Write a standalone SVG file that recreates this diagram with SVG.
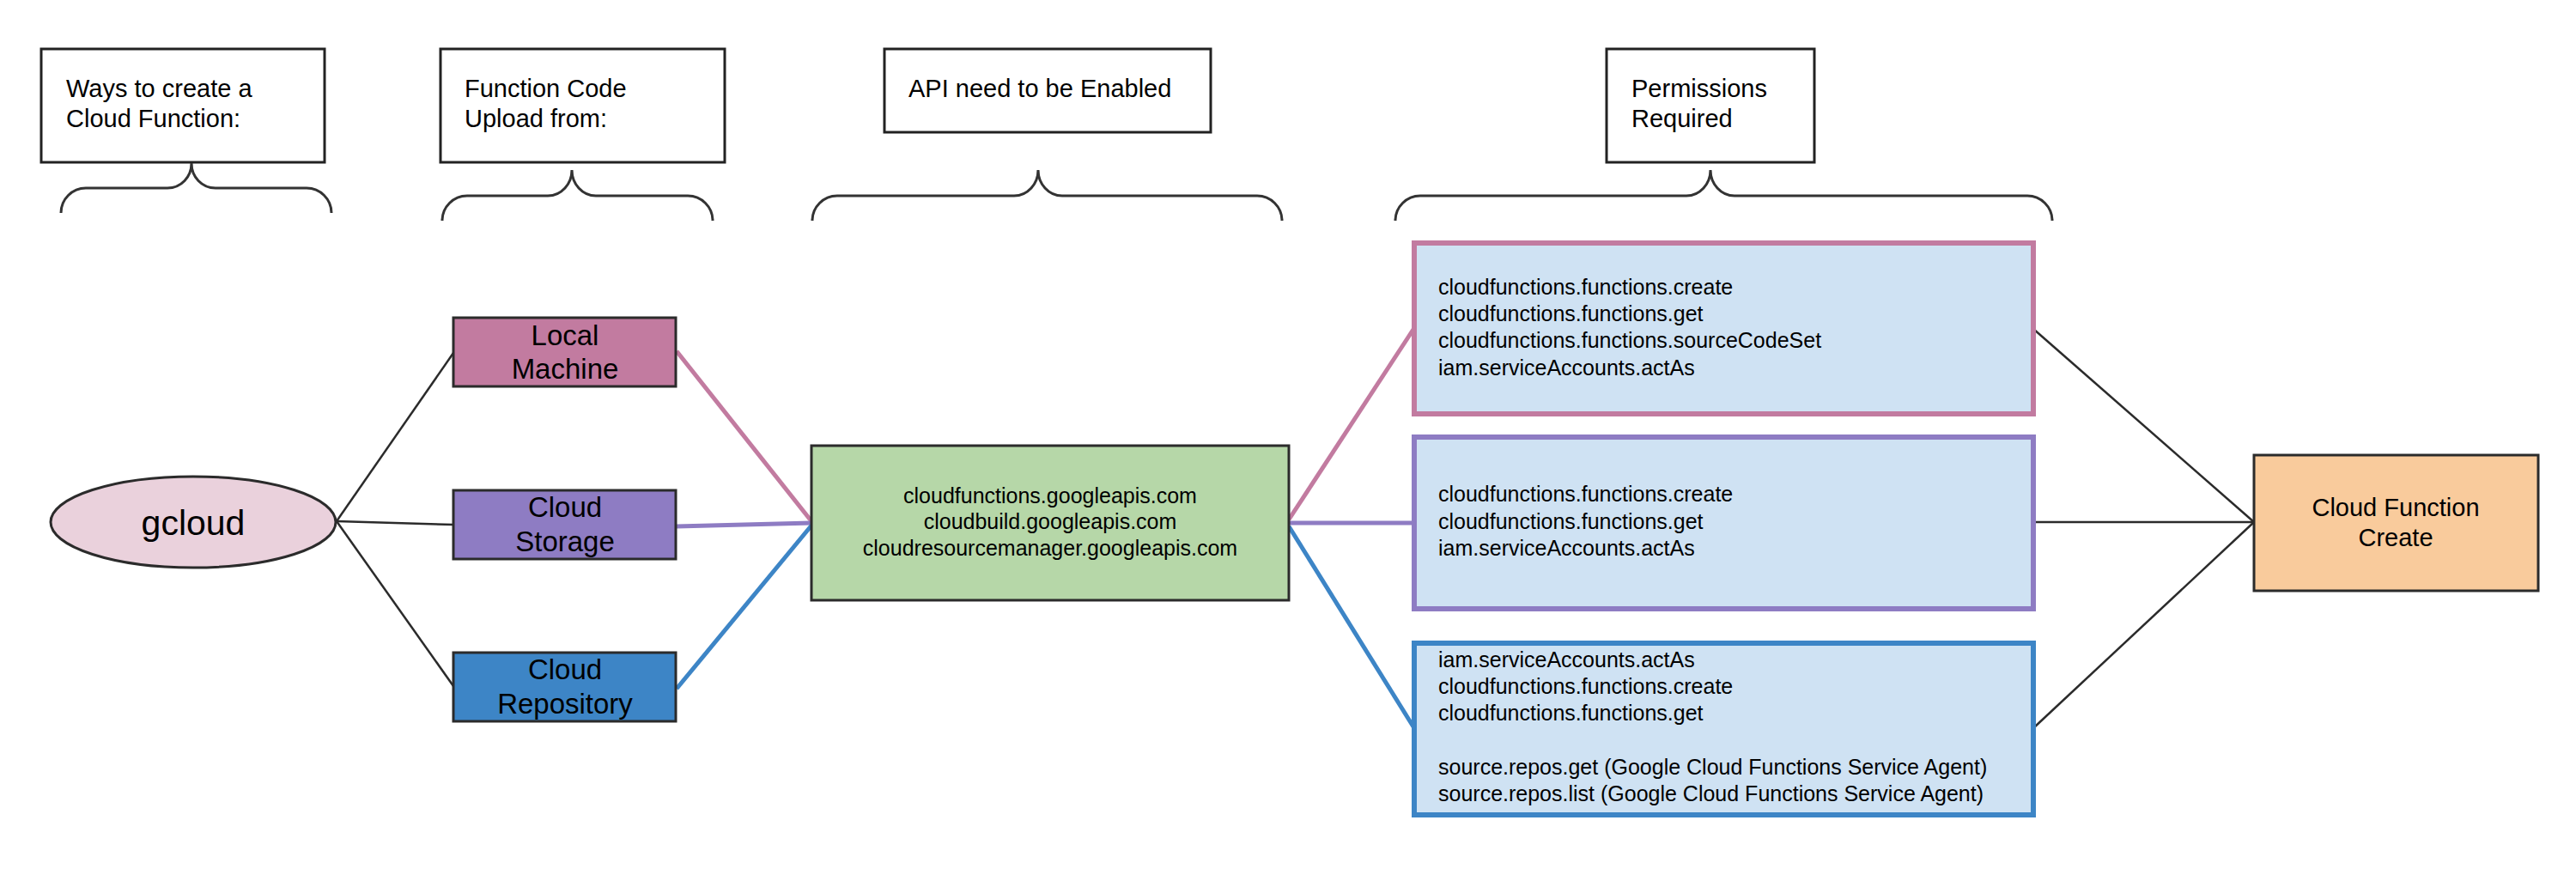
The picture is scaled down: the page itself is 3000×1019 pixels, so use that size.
<svg xmlns="http://www.w3.org/2000/svg" width="3000" height="1019" viewBox="0 0 3000 1019">
<style>
text{font-family:"Liberation Sans",Arial,sans-serif;fill:#000}
.hdr{fill:#fff;stroke:#222;stroke-width:3}
.ht{font-size:29px}
.brace{fill:none;stroke:#333;stroke-width:3}
.node{stroke:#2b2b2b;stroke-width:3}
.nt{font-size:33px;text-anchor:middle}
.perm{fill:#cfe2f3;stroke-width:6}
.pt{font-size:25px}
.blk{stroke:#2b2b2b;stroke-width:2.5;fill:none}
.col{stroke-width:5;fill:none}
</style>
<rect width="3000" height="1019" fill="#fff"/>
<g id="connectors">
<line class="blk" x1="392" y1="607" x2="528" y2="411"/>
<line class="blk" x1="392" y1="607" x2="528" y2="611"/>
<line class="blk" x1="392" y1="607" x2="528" y2="799"/>
<line class="col" stroke="#c27ba0" x1="788" y1="409" x2="945" y2="607"/>
<line class="col" stroke="#8e7cc3" x1="788" y1="613" x2="945" y2="609"/>
<line class="col" stroke="#3d85c6" x1="788" y1="802" x2="945" y2="612"/>
<line class="col" stroke="#c27ba0" x1="1501" y1="605" x2="1647" y2="382"/>
<line class="col" stroke="#8e7cc3" x1="1501" y1="609" x2="1647" y2="609"/>
<line class="col" stroke="#3d85c6" x1="1501" y1="613" x2="1647" y2="848"/>
<line class="blk" x1="2368" y1="383" x2="2625" y2="608"/>
<line class="blk" x1="2368" y1="608" x2="2625" y2="608"/>
<line class="blk" x1="2368" y1="848" x2="2625" y2="608"/>
</g>
<g id="hdr-ways">
<rect class="hdr" x="48" y="57" width="330" height="132"/>
<text class="ht" x="77" y="113">Ways to create a</text>
<text class="ht" x="77" y="148">Cloud Function:</text>
</g>
<g id="brace-ways">
<path class="brace" d="M71,248 C71,232 84,219 100,219 L195,219 C211,219 223,206 223,190 C223,206 235,219 251,219 L357,219 C373,219 386,232 386,248"/>
</g>
<g id="hdr-upload">
<rect class="hdr" x="513" y="57" width="331" height="132"/>
<text class="ht" x="541" y="113">Function Code</text>
<text class="ht" x="541" y="148">Upload from:</text>
</g>
<g id="brace-upload">
<path class="brace" d="M515,257 C515,241 528,228 544,228 L638,228 C654,228 666,214 666,198 C666,214 678,228 694,228 L801,228 C817,228 830,241 830,257"/>
</g>
<g id="hdr-api">
<rect class="hdr" x="1030" y="57" width="380" height="97"/>
<text class="ht" x="1058" y="113">API need to be Enabled</text>
</g>
<g id="brace-api">
<path class="brace" d="M946,257 C946,241 959,228 975,228 L1181,228 C1197,228 1209,214 1209,198 C1209,214 1221,228 1237,228 L1464,228 C1480,228 1493,241 1493,257"/>
</g>
<g id="hdr-perm">
<rect class="hdr" x="1871" y="57" width="242" height="132"/>
<text class="ht" x="1900" y="113">Permissions</text>
<text class="ht" x="1900" y="148">Required</text>
</g>
<g id="brace-perm">
<path class="brace" d="M1625,257 C1625,241 1638,228 1654,228 L1964,228 C1980,228 1992,214 1992,198 C1992,214 2004,228 2020,228 L2361,228 C2377,228 2390,241 2390,257"/>
</g>
<g id="gcloud">
<ellipse class="node" cx="225" cy="608" rx="166" ry="53" fill="#ead1dc"/>
<text x="225" y="623" font-size="41" text-anchor="middle">gcloud</text>
</g>
<g id="local-machine">
<rect class="node" x="528" y="370" width="259" height="80" fill="#c27ba0"/>
<text class="nt" x="658" y="402">Local</text>
<text class="nt" x="658" y="441">Machine</text>
</g>
<g id="cloud-storage">
<rect class="node" x="528" y="571" width="259" height="80" fill="#8e7cc3"/>
<text class="nt" x="658" y="602">Cloud</text>
<text class="nt" x="658" y="642">Storage</text>
</g>
<g id="cloud-repository">
<rect class="node" x="528" y="760" width="259" height="80" fill="#3d85c6"/>
<text class="nt" x="658" y="791">Cloud</text>
<text class="nt" x="658" y="831">Repository</text>
</g>
<g id="apis">
<rect class="node" x="945" y="519" width="556" height="180" fill="#b6d7a8"/>
<text class="pt" x="1223" y="586" text-anchor="middle">cloudfunctions.googleapis.com</text>
<text class="pt" x="1223" y="616" text-anchor="middle">cloudbuild.googleapis.com</text>
<text class="pt" x="1223" y="647" text-anchor="middle">cloudresourcemanager.googleapis.com</text>
</g>
<g id="perm-local">
<rect class="perm" stroke="#c27ba0" x="1647" y="283" width="721" height="199"/>
<text class="pt" x="1675" y="343">cloudfunctions.functions.create</text>
<text class="pt" x="1675" y="374">cloudfunctions.functions.get</text>
<text class="pt" x="1675" y="405">cloudfunctions.functions.sourceCodeSet</text>
<text class="pt" x="1675" y="437">iam.serviceAccounts.actAs</text>
</g>
<g id="perm-storage">
<rect class="perm" stroke="#8e7cc3" x="1647" y="509" width="721" height="200"/>
<text class="pt" x="1675" y="584">cloudfunctions.functions.create</text>
<text class="pt" x="1675" y="616">cloudfunctions.functions.get</text>
<text class="pt" x="1675" y="647">iam.serviceAccounts.actAs</text>
</g>
<g id="perm-repo">
<rect class="perm" stroke="#3d85c6" x="1647" y="749" width="721" height="200"/>
<text class="pt" x="1675" y="777">iam.serviceAccounts.actAs</text>
<text class="pt" x="1675" y="808">cloudfunctions.functions.create</text>
<text class="pt" x="1675" y="839">cloudfunctions.functions.get</text>
<text class="pt" x="1675" y="902">source.repos.get (Google Cloud Functions Service Agent)</text>
<text class="pt" x="1675" y="933">source.repos.list (Google Cloud Functions Service Agent)</text>
</g>
<g id="cf-create">
<rect class="node" x="2625" y="530" width="331" height="158" fill="#f9cb9c"/>
<text x="2790" y="601" font-size="29" text-anchor="middle">Cloud Function</text>
<text x="2790" y="636" font-size="29" text-anchor="middle">Create</text>
</g>
</svg>
